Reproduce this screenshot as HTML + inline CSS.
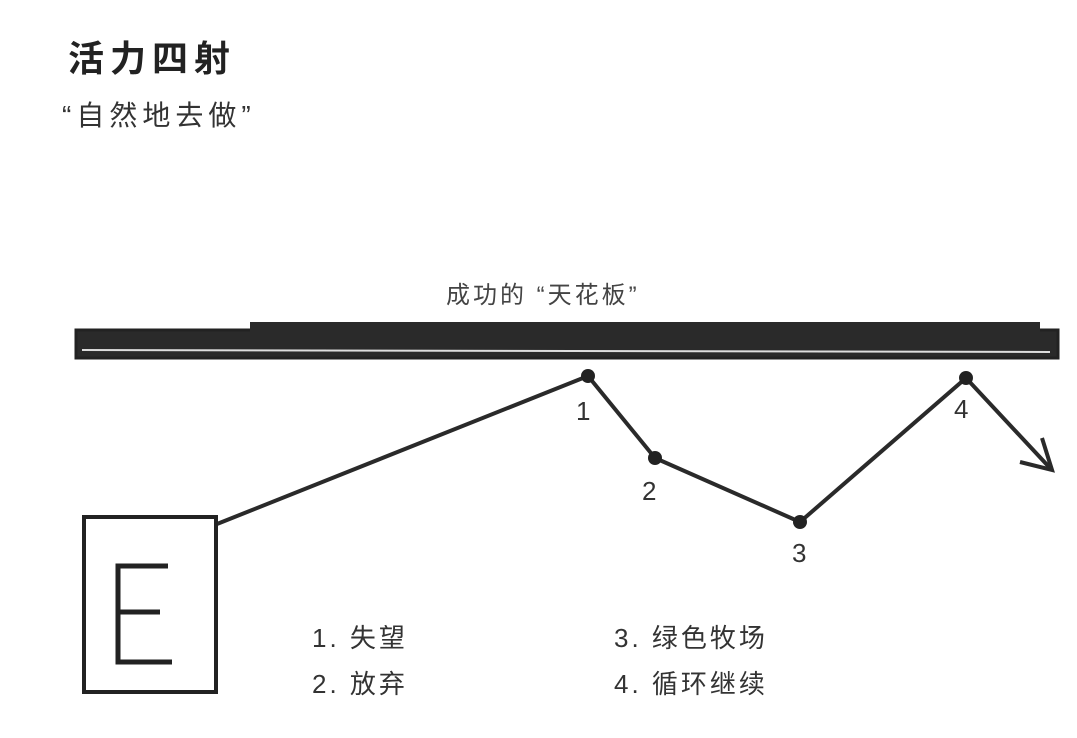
<!DOCTYPE html>
<html><head><meta charset="utf-8"><style>
body{margin:0;width:1077px;height:738px;background:#fff;overflow:hidden;position:relative;font-family:"Liberation Sans","Noto Sans CJK SC",sans-serif;color:#222}
.t{position:absolute;white-space:nowrap}
</style></head><body>
<div class="t" style="left:68px;top:30px;font-size:36px;letter-spacing:6px;font-weight:bold">活力四射</div>
<div class="t" style="left:62px;top:94px;font-size:28px;letter-spacing:5px;color:#333">“自然地去做”</div>
<div class="t" style="left:446px;top:275px;font-size:24px;letter-spacing:3px;color:#444">成功的 “天花板”</div>
<svg width="1077" height="738" style="position:absolute;left:0;top:0">
<rect x="76" y="330" width="982" height="28" fill="#2a2a2a" stroke="#222" stroke-width="3"/>
<rect x="250" y="322" width="790" height="14" fill="#2a2a2a"/>
<line x1="82" y1="350" x2="1050" y2="352" stroke="#ddd" stroke-width="2"/>
<polyline points="217,524 588,376 655,458 800,522 966,378 1050,468" fill="none" stroke="#2a2a2a" stroke-width="4" stroke-linejoin="round"/>
<polyline points="1020,462 1052,470 1042,438" fill="none" stroke="#2a2a2a" stroke-width="4"/>
<circle cx="588" cy="376" r="7" fill="#222"/><circle cx="655" cy="458" r="7" fill="#222"/>
<circle cx="800" cy="522" r="7" fill="#222"/><circle cx="966" cy="378" r="7" fill="#222"/>
<rect x="84" y="517" width="132" height="175" fill="none" stroke="#222" stroke-width="4"/>
<path d="M168 566 H118 V662 H172 M118 612 H160" fill="none" stroke="#222" stroke-width="5"/>
</svg>
<div class="t" style="left:576px;top:396px;font-size:26px;color:#333">1</div>
<div class="t" style="left:642px;top:476px;font-size:26px;color:#333">2</div>
<div class="t" style="left:792px;top:538px;font-size:26px;color:#333">3</div>
<div class="t" style="left:954px;top:394px;font-size:26px;color:#333">4</div>
<div class="t" style="left:312px;top:618px;font-size:26px;letter-spacing:3px;color:#333">1. 失望</div>
<div class="t" style="left:312px;top:664px;font-size:26px;letter-spacing:3px;color:#333">2. 放弃</div>
<div class="t" style="left:614px;top:618px;font-size:26px;letter-spacing:3px;color:#333">3. 绿色牧场</div>
<div class="t" style="left:614px;top:664px;font-size:26px;letter-spacing:3px;color:#333">4. 循环继续</div>
</body></html>
